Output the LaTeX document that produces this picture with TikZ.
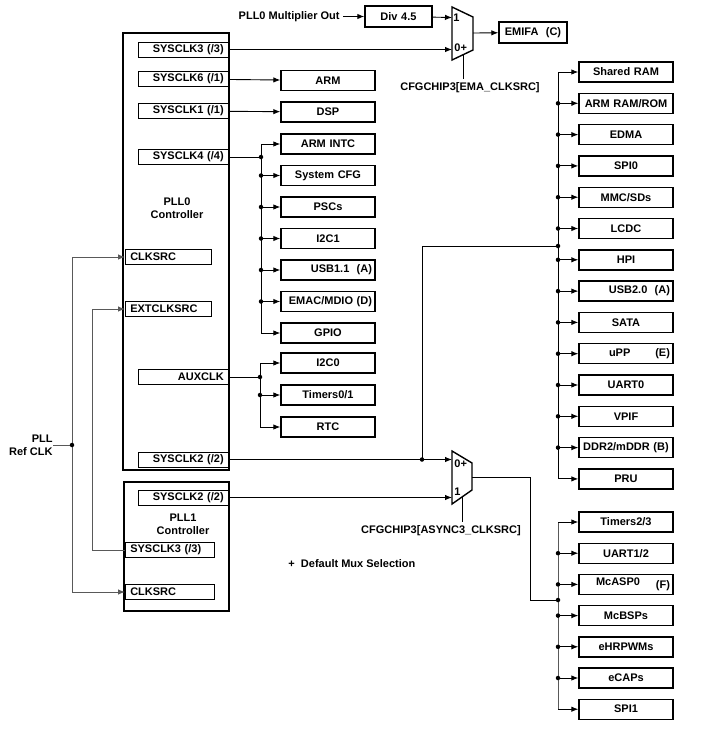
\documentclass[tikz,border=0pt]{standalone}
\usepackage{fontspec}
\setmainfont{Liberation Sans}
\usetikzlibrary{arrows.meta,positioning}

\begin{document}
\begin{tikzpicture}[x=1pt,y=-1pt,line width=0.9pt,
    font=\fontsize{11}{13}\selectfont\bfseries,
    >={Latex[length=7pt,width=5.5pt]},
    periph/.style={draw,line width=1.4pt,minimum width=94pt,minimum height=20pt,inner sep=0pt,text width=88pt,align=center},
    clkr/.style={draw,line width=0.6pt,minimum height=15pt,inner xsep=5pt,inner ysep=0pt,text width=80pt,align=right,anchor=east},
    clkl/.style={draw,line width=0.6pt,minimum height=15pt,inner xsep=5pt,inner ysep=0pt,text width=79pt,align=left,anchor=west},
    ctrl/.style={draw,line width=1.6pt,inner sep=0pt},
    mux/.style={draw,line width=1.4pt,fill=white},
    dot/.style={circle,fill,inner sep=0pt,minimum size=4.5pt},
    feed/.style={draw=black!65}]
\useasboundingbox (0,0) rectangle (720,729);

% PLL0 controller
\node[ctrl,minimum width=106pt,minimum height=437pt] (pll0) at (176,251.5) {};
\node[align=center] (pll0txt) at (177,208) {PLL0\\Controller};
\node[clkr] (s3) at (229,49.5) {SYSCLK3 (/3)};
\node[clkr] (s6) at (229,79) {SYSCLK6 (/1)};
\node[clkr] (s1) at (229,111) {SYSCLK1 (/1)};
\node[clkr] (s4) at (229,157) {SYSCLK4 (/4)};
\node[clkl,text width=76pt] (clksrc0) at (125,257) {CLKSRC};
\node[clkl,text width=76pt] (extclk) at (125,309) {EXTCLKSRC};
\node[clkr] (aux) at (229,377) {AUXCLK};
\node[clkr] (s2) at (229,459.5) {SYSCLK2 (/2)};

% PLL1 controller
\node[ctrl,minimum width=105pt,minimum height=129pt] (pll1) at (176.5,546.5) {};
\node[align=center] (pll1txt) at (183,524) {PLL1\\Controller};
\node[clkr] (p1s2) at (229,497.5) {SYSCLK2 (/2)};
\node[clkl] (p1s3) at (125,550) {SYSCLK3 (/3)};
\node[clkl] (clksrc1) at (125,592) {CLKSRC};

% reference clock
\node[anchor=north east,inner sep=0pt,align=right] (pllref) at (53,434) {PLL\\Ref CLK};
\coordinate (refdot) at (72,445);
\coordinate (extturn) at (92,550);
\draw[feed] (pllref.east |- refdot) -- (refdot);
\draw[feed,->] (refdot) |- (clksrc0.west);
\draw[feed,->] (refdot) |- (clksrc1.west);
\node[dot] at (refdot) {};
\draw[feed,->] (p1s3.west) -- (extturn) |- (extclk.west);

% EMIFA mux
\node[inner xsep=3pt,inner ysep=0pt,anchor=east] (multout) at (343,16.5) {PLL0 Multiplier Out};
\node[periph,minimum width=67pt,text width=60pt,minimum height=21pt] (div) at (398.5,16.5) {Div 4.5};
\draw[mux] (452,7) -- (473,17) -- (473,50) -- (452,60) -- cycle;
\coordinate (m1a) at (452,17.5);
\coordinate (m1b) at (452,49.5);
\coordinate (m1out) at (473,33);
\coordinate (m1sel) at (463,54.8);
\node[anchor=west,inner sep=1pt] (m1l1) at (m1a) {1};
\node[anchor=west,inner sep=1pt] (m1l0) at (453,48) {0+};
\node[periph,minimum width=68pt,text width=62pt,minimum height=21pt] (emifa) at (533,32.5) {EMIFA\ \ (C)};
\node (emasel) at (470,88) {CFGCHIP3[EMA\_CLKSRC]};
\draw[->] (multout) -- (div);
\draw[->] (div) -- (m1a);
\draw[->] (s3.east) -- (m1b);
\draw[->] (m1out) -- (emifa);
\draw (m1sel) -- (emasel.north -| m1sel);

% direct clocks
\node[periph] (arm) at (328,80.5) {ARM};
\node[periph] (dsp) at (328,112) {DSP};
\draw[->] (s6) -- (arm);
\draw[->] (s1) -- (dsp);

% SYSCLK4 bus
\coordinate (bus4) at (261,157);
\foreach \txt [count=\i] in {ARM INTC, System CFG, PSCs, I2C1, \hfill USB1.1\ \ (A), \hfill EMAC/MDIO\ (D), GPIO}
  \node[periph] (a\i) at (328,144+31.5*\i-31.5) {\txt};
\draw (s4.east) -- (bus4);
\draw (bus4 |- a1.west) -- (bus4 |- a7.west);
\foreach \i in {1,...,7} {
  \draw[->] (bus4 |- a\i.west) -- (a\i.west);
  \ifnum\i>1 \ifnum\i<7 \node[dot] at (bus4 |- a\i.west) {}; \fi\fi
}
\node[dot] at (bus4) {};

% AUXCLK bus
\coordinate (busx) at (260,377);
\foreach \txt [count=\i] in {I2C0, Timers0/1, RTC}
  \node[periph] (x\i) at (328,363+32*\i-32) {\txt};
\draw (aux.east) -- (busx);
\draw (busx |- x1.west) -- (busx |- x3.west);
\foreach \i in {1,2,3}
  \draw[->] (busx |- x\i.west) -- (x\i.west);
\node[dot] at (busx) {};
\node[dot] at (busx |- x2.west) {};

% async mux
\draw[mux] (452,451) -- (472,463) -- (472,490) -- (452,504) -- cycle;
\coordinate (m2a) at (452,459.5);
\coordinate (m2b) at (452,497.5);
\coordinate (m2out) at (472,477);
\coordinate (m2sel) at (462,497);
\coordinate (s2tap) at (422,459.5);
\node[anchor=west,inner sep=1pt] (m2l0) at (453,464) {0+};
\node[anchor=west,inner sep=1pt] (m2l1) at (453,492) {1};
\node (asyncsel) at (441,531) {CFGCHIP3[ASYNC3\_CLKSRC]};
\draw[->] (s2.east) -- (m2a);
\draw[->] (p1s2.east) -- (m2b);
\draw (m2sel) -- (asyncsel.north -| m2sel);
\node[dot] at (s2tap) {};

% SYSCLK2 bus
\coordinate (bus2) at (558,246);
\foreach \txt [count=\i] in {Shared RAM, ARM RAM/ROM, EDMA, SPI0, MMC/SDs, LCDC, HPI,
    \hfill USB2.0\ \ (A), SATA, \hspace*{27pt}uPP\hfill(E), UART0, VPIF, DDR2/mDDR (B), PRU}
  \node[periph] (r\i) at (626,72+31.3*\i-31.3) {\txt};
\draw (s2tap) |- (bus2);
\draw (bus2 |- r1.west) -- (bus2 |- r14.west);
\foreach \i in {1,...,14} {
  \draw[->] (bus2 |- r\i.west) -- (r\i.west);
  \ifnum\i>1 \ifnum\i<14 \node[dot] at (bus2 |- r\i.west) {}; \fi\fi
}
\node[dot] at (bus2) {};

% ASYNC3 bus
\coordinate (bus3) at (558,600);
\coordinate (m2turn) at (530,477);
\foreach \txt [count=\i] in {Timers2/3, UART1/2, \hspace*{14pt}McASP0\hfill\raisebox{-3pt}{(F)}, McBSPs, eHRPWMs, eCAPs, SPI1}
  \node[periph] (b\i) at (626,522+31.2*\i-31.2) {\txt};
\draw (m2out) -- (m2turn) |- (bus3);
\draw[feed] (bus3 |- b1.west) -- (bus3 |- b7.west);
\foreach \i in {1,...,7} {
  \draw[->] (bus3 |- b\i.west) -- (b\i.west);
  \ifnum\i>1 \ifnum\i<7 \node[dot] at (bus3 |- b\i.west) {}; \fi\fi
}
\node[dot] at (bus3) {};

\node[anchor=west,inner sep=0pt] (note) at (288,564) {+\ \ Default Mux Selection};
\end{tikzpicture}
\end{document}
